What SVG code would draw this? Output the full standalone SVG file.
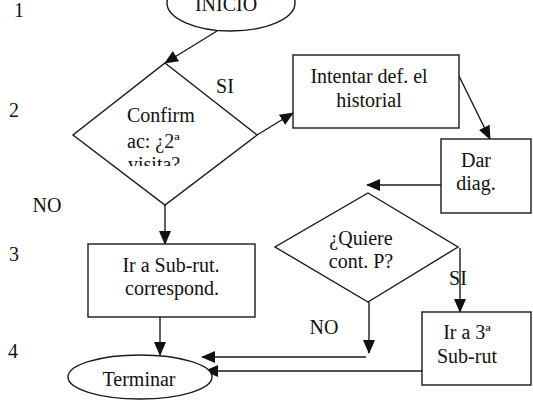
<svg xmlns="http://www.w3.org/2000/svg" width="533" height="403" viewBox="0 0 533 403">
  <style>
    .shape { fill: #fff; stroke: #1a1a1a; stroke-width: 1.4; }
    .conn { fill: none; stroke: #1a1a1a; stroke-width: 1.4; }
    text { font-family: "Liberation Serif", "Times New Roman", serif; font-size: 20px; fill: #111; }
    .c { text-anchor: middle; }
  </style>
  <defs>
    <marker id="arrow" markerUnits="userSpaceOnUse" markerWidth="14" markerHeight="12" viewBox="0 0 14 12" refX="13" refY="6" orient="auto">
      <path d="M0,0 L14,6 L0,12 z" fill="#111"/>
    </marker>
    <clipPath id="clipVisita">
      <rect x="0" y="0" width="533" height="166"/>
    </clipPath>
  </defs>
  <rect width="533" height="403" fill="#fff"/>

  <!-- row numbers -->
  <g id="rows">
    <text x="19" y="17" class="c">1</text>
    <text x="14" y="117" class="c">2</text>
    <text x="14" y="261" class="c">3</text>
    <text x="13" y="358" class="c">4</text>
  </g>

  <!-- connectors -->
  <g id="connectors">
    <line class="conn" x1="217" y1="31" x2="165" y2="63" marker-end="url(#arrow)"/>
    <line class="conn" x1="257" y1="135" x2="293" y2="113" marker-end="url(#arrow)"/>
    <line class="conn" x1="459" y1="76" x2="490" y2="139" marker-end="url(#arrow)"/>
    <line class="conn" x1="441" y1="185" x2="367" y2="185" marker-end="url(#arrow)"/>
    <line class="conn" x1="165" y1="205" x2="165" y2="244" marker-end="url(#arrow)"/>
    <line class="conn" x1="460" y1="248" x2="460" y2="312" marker-end="url(#arrow)"/>
    <line class="conn" x1="369" y1="302" x2="369" y2="353" marker-end="url(#arrow)"/>
    <line class="conn" x1="366" y1="357" x2="202" y2="357" marker-end="url(#arrow)"/>
    <line class="conn" x1="422" y1="371" x2="205" y2="371" marker-end="url(#arrow)"/>
    <line class="conn" x1="160" y1="317" x2="160" y2="355" marker-end="url(#arrow)"/>
  </g>

  <!-- edge labels -->
  <g id="labels">
    <text x="225" y="93" class="c">SI</text>
    <text x="47" y="212" class="c">NO</text>
    <text x="458" y="285" class="c">SI</text>
    <text x="324" y="334" class="c">NO</text>
  </g>

  <g id="inicio">
    <ellipse class="shape" cx="231" cy="3" rx="64" ry="28"/>
    <text x="226" y="11" class="c">INICIO</text>
  </g>

  <g id="confirm">
    <polygon class="shape" points="165,63 257,135 165,205 73,135"/>
    <text x="127" y="122">Confirm</text>
    <text x="127" y="148">ac: ¿2ª</text>
    <text x="128" y="171" clip-path="url(#clipVisita)">visita?</text>
  </g>

  <g id="intentar">
    <rect class="shape" x="293" y="55" width="166" height="73"/>
    <text x="369" y="83" class="c">Intentar def. el</text>
    <text x="369" y="107" class="c">historial</text>
  </g>

  <g id="dar-diag">
    <rect class="shape" x="441" y="139" width="90" height="74"/>
    <text x="476" y="167" class="c">Dar</text>
    <text x="476" y="190" class="c">diag.</text>
  </g>

  <g id="quiere">
    <polygon class="shape" points="368,193 458,247 368,302 275,247"/>
    <text x="361" y="245" class="c">¿Quiere</text>
    <text x="361" y="268" class="c">cont. P?</text>
  </g>

  <g id="sub-rut">
    <rect class="shape" x="88" y="244" width="167" height="73"/>
    <text x="171" y="272" class="c">Ir a Sub-rut.</text>
    <text x="172" y="295" class="c">correspond.</text>
  </g>

  <g id="tercera">
    <rect class="shape" x="422" y="312" width="109" height="73"/>
    <text x="467" y="339" class="c">Ir a 3ª</text>
    <text x="467" y="363" class="c">Sub-rut</text>
  </g>

  <g id="terminar">
    <ellipse class="shape" cx="140" cy="377" rx="72" ry="22"/>
    <text x="139" y="386" class="c">Terminar</text>
  </g>
</svg>
